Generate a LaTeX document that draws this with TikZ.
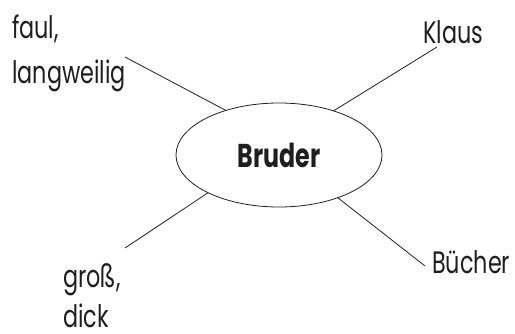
\documentclass[tikz,border=0pt]{standalone}
\usepackage{fontspec}
\setmainfont{Poppins}
\newfontfamily\lblfont[FakeStretch=0.72]{Poppins}
\usetikzlibrary{shapes.geometric}
\definecolor{ink}{HTML}{1E1E1E}
\begin{document}
\begin{tikzpicture}[x=1pt,y=-1pt,
  lbl/.style={anchor=base west, inner sep=0pt, font=\lblfont\fontsize{31}{34}\selectfont, text=ink},
  conn/.style={draw=ink, line width=0.8pt}]
\useasboundingbox (0,0) rectangle (515,333);
\node[ellipse, draw=ink, line width=0.8pt, minimum width=206pt, minimum height=104pt,
      inner sep=0pt, outer sep=0pt, text=ink, font=\lblfont\bfseries\fontsize{33}{36}\selectfont] (bruder) at (279,155) {Bruder};
\node[lbl] (faul) at (12,38) {faul,};
\node[lbl] (langweilig) at (12,83) {langweilig};
\node[lbl] (klaus) at (423,43) {Klaus};
\node[lbl] (gross) at (63,287) {groß,};
\node[lbl] (dick) at (63,327) {dick};
\node[lbl] (buecher) at (432,273) {Bücher};
\coordinate (faulEnd) at (125,57);
\coordinate (klausEnd) at (437,47);
\coordinate (grossEnd) at (125,248);
\coordinate (buecherEnd) at (425,266);
\draw[conn] (bruder.140) -- (faulEnd);
\draw[conn] (bruder.39) -- (klausEnd);
\draw[conn] (bruder.208) -- (grossEnd);
\draw[conn] (bruder.324) -- (buecherEnd);
\end{tikzpicture}
\end{document}
